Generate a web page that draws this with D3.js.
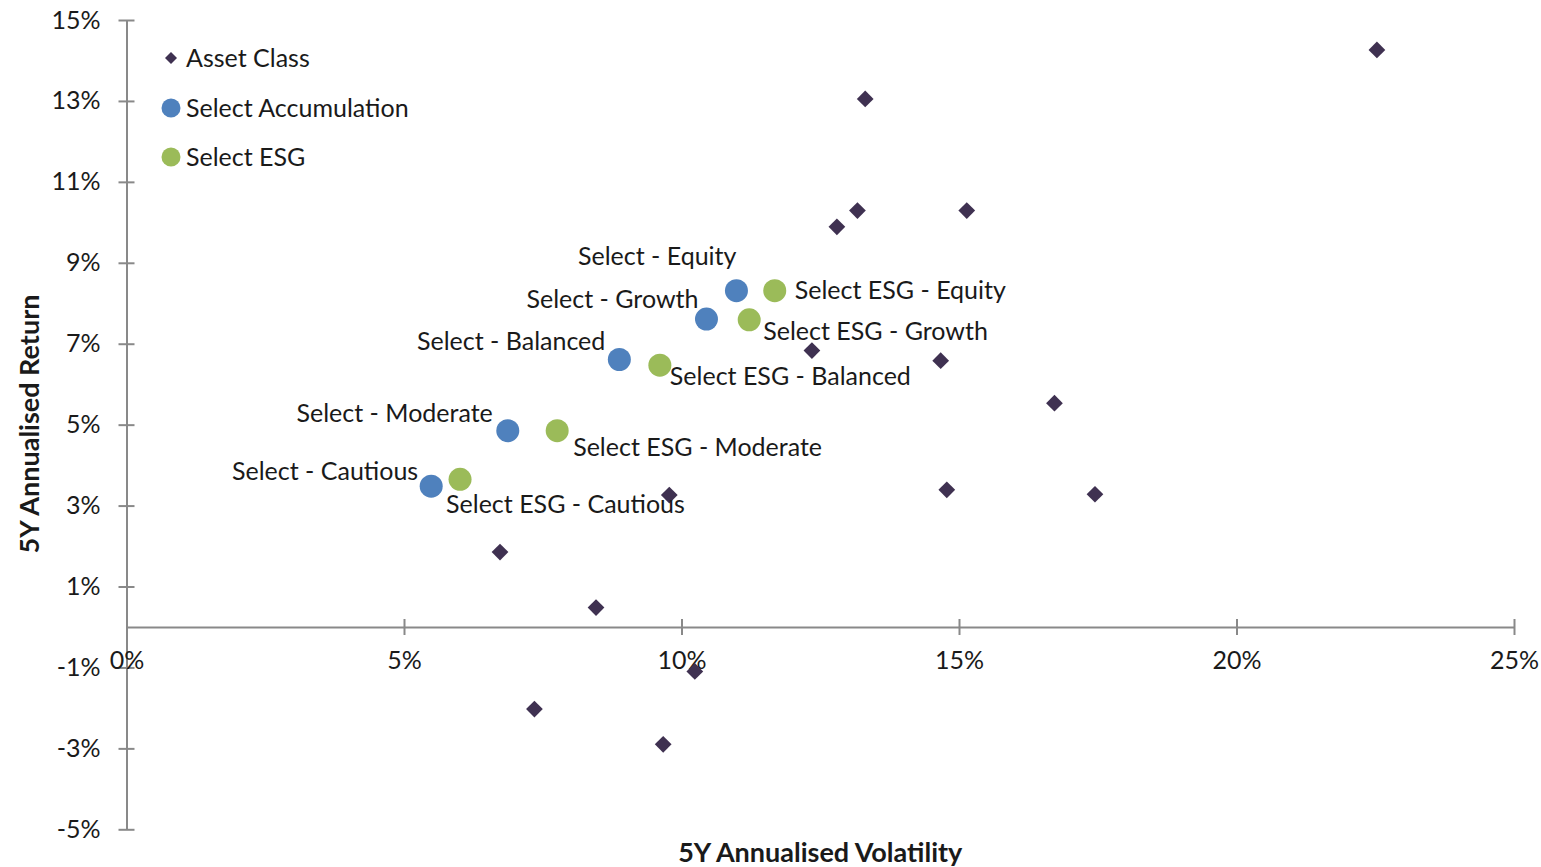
<!DOCTYPE html>
<html>
<head>
<meta charset="utf-8">
<script src="https://cdn.jsdelivr.net/npm/d3@7"></script>
<style>
  html, body { margin: 0; padding: 0; background: #ffffff; }
  svg { display: block; }
  text { font-family: Lato, "Noto Sans", sans-serif; fill: #1a1a1a; }
</style>
</head>
<body>
<svg id="chart" width="1541" height="867"></svg>
<script>
// ---------------- DATA ----------------
const xTicks = [0, 5, 10, 15, 20, 25];
const yTicks = [-5, -3, -1, 1, 3, 5, 7, 9, 11, 13, 15];

// Asset Class (volatility %, return %)
const assetVol = [22.53, 13.31, 13.17, 15.14, 12.80, 12.35, 14.67, 16.72, 14.78, 17.45, 9.78, 6.73, 8.46, 10.24, 7.35, 9.67];
const assetRet = [14.26, 13.05, 10.29, 10.29, 9.89, 6.83, 6.58, 5.53, 3.39, 3.28, 3.26, 1.85, 0.48, -1.10, -2.03, -2.90];

// Select Accumulation
const accNames = ["Select - Equity", "Select - Growth", "Select - Balanced", "Select - Moderate", "Select - Cautious"];
const accVol = [10.99, 10.45, 8.88, 6.87, 5.49];
const accRet = [8.31, 7.61, 6.61, 4.85, 3.48];

// Select ESG
const esgNames = ["Select ESG - Equity", "Select ESG - Growth", "Select ESG - Balanced", "Select ESG - Moderate", "Select ESG - Cautious"];
const esgVol = [11.68, 11.22, 9.61, 7.76, 6.01];
const esgRet = [8.31, 7.59, 6.47, 4.85, 3.65];

const legendNames = ["Asset Class", "Select Accumulation", "Select ESG"];

// ---------------- LAYOUT ----------------
const accLabelOffset = [[0, -36], [-8, -21], [-14, -20], [-15, -19], [-13, -16]];
const esgLabelOffset = [[20, -2], [14, 10], [10, 10], [16, 15], [-14, 24]];

const colors = { asset: "#3f3151", acc: "#4f81bd", esg: "#9bbb59", axis: "#898989" };
const fontSize = 25;
const titleSize = 27;

const svg = d3.select("#chart");
const x = d3.scaleLinear().domain([0, 25]).range([126.5, 1514]);
const y = d3.scaleLinear().domain([-5, 15]).range([829.3, 20]);

// Y axis
const yAxisG = svg.append("g").attr("transform", `translate(${x(0)},0)`);
yAxisG.call(d3.axisLeft(y).tickValues(yTicks).tickSize(0).tickPadding(26).tickFormat(d => d + "%"));
yAxisG.select(".domain").attr("stroke", colors.axis).attr("stroke-width", 2);
yAxisG.selectAll(".tick text").attr("font-size", fontSize).attr("fill", "#1a1a1a").attr("font-family", "Lato, 'Noto Sans', sans-serif");
yAxisG.selectAll(".tick").append("line").attr("x1", -8).attr("x2", 8).attr("stroke", colors.axis).attr("stroke-width", 2);

// X axis at y = 0
const xAxisG = svg.append("g").attr("transform", `translate(0,${y(0)})`);
xAxisG.call(d3.axisBottom(x).tickValues(xTicks).tickSize(0).tickPadding(24).tickFormat(d => d + "%"));
xAxisG.select(".domain").attr("stroke", colors.axis).attr("stroke-width", 2);
xAxisG.selectAll(".tick text").attr("font-size", fontSize).attr("fill", "#1a1a1a").attr("font-family", "Lato, 'Noto Sans', sans-serif");
xAxisG.selectAll(".tick").append("line").attr("y1", -8).attr("y2", 8).attr("stroke", colors.axis).attr("stroke-width", 2);

// Axis titles
svg.append("text")
  .attr("transform", `translate(28,424) rotate(-90)`)
  .attr("text-anchor", "middle").attr("dominant-baseline", "central")
  .attr("font-size", titleSize).attr("font-weight", "bold")
  .text("5Y Annualised Return");
svg.append("text")
  .attr("x", (x(0) + x(25)) / 2).attr("y", 851)
  .attr("text-anchor", "middle").attr("dominant-baseline", "central")
  .attr("font-size", titleSize).attr("font-weight", "bold")
  .text("5Y Annualised Volatility");

// Marks
const diamond = d3.symbol().type(d3.symbolSquare).size(140);
const assetData = assetVol.map((v, i) => ({ v, r: assetRet[i] }));
svg.append("g").selectAll("path").data(assetData).join("path")
  .attr("d", diamond)
  .attr("transform", d => `translate(${x(d.v)},${y(d.r)}) rotate(45)`)
  .attr("fill", colors.asset);

const accData = accVol.map((v, i) => ({ v, r: accRet[i], name: accNames[i], off: accLabelOffset[i] }));
const esgData = esgVol.map((v, i) => ({ v, r: esgRet[i], name: esgNames[i], off: esgLabelOffset[i] }));

svg.append("g").selectAll("circle").data(accData).join("circle")
  .attr("cx", d => x(d.v)).attr("cy", d => y(d.r)).attr("r", 11.5).attr("fill", colors.acc);
svg.append("g").selectAll("circle").data(esgData).join("circle")
  .attr("cx", d => x(d.v)).attr("cy", d => y(d.r)).attr("r", 11.5).attr("fill", colors.esg);

svg.append("g").selectAll("text").data(accData).join("text")
  .attr("x", d => x(d.v) + d.off[0]).attr("y", d => y(d.r) + d.off[1])
  .attr("text-anchor", "end").attr("dominant-baseline", "central")
  .attr("font-size", fontSize).text(d => d.name);
svg.append("g").selectAll("text").data(esgData).join("text")
  .attr("x", d => x(d.v) + d.off[0]).attr("y", d => y(d.r) + d.off[1])
  .attr("text-anchor", "start").attr("dominant-baseline", "central")
  .attr("font-size", fontSize).text(d => d.name);

// Legend
const legendY = [58, 108, 157];
const lg = svg.append("g");
lg.append("path").attr("d", d3.symbol().type(d3.symbolSquare).size(72)())
  .attr("transform", `translate(171,${legendY[0]}) rotate(45)`).attr("fill", colors.asset);
lg.append("circle").attr("cx", 171).attr("cy", legendY[1]).attr("r", 9.5).attr("fill", colors.acc);
lg.append("circle").attr("cx", 171).attr("cy", legendY[2]).attr("r", 9.5).attr("fill", colors.esg);
lg.selectAll("text").data(legendNames).join("text")
  .attr("x", 186).attr("y", (d, i) => legendY[i] - 1)
  .attr("dominant-baseline", "central").attr("font-size", fontSize)
  .text(d => d);
</script>
</body>
</html>
